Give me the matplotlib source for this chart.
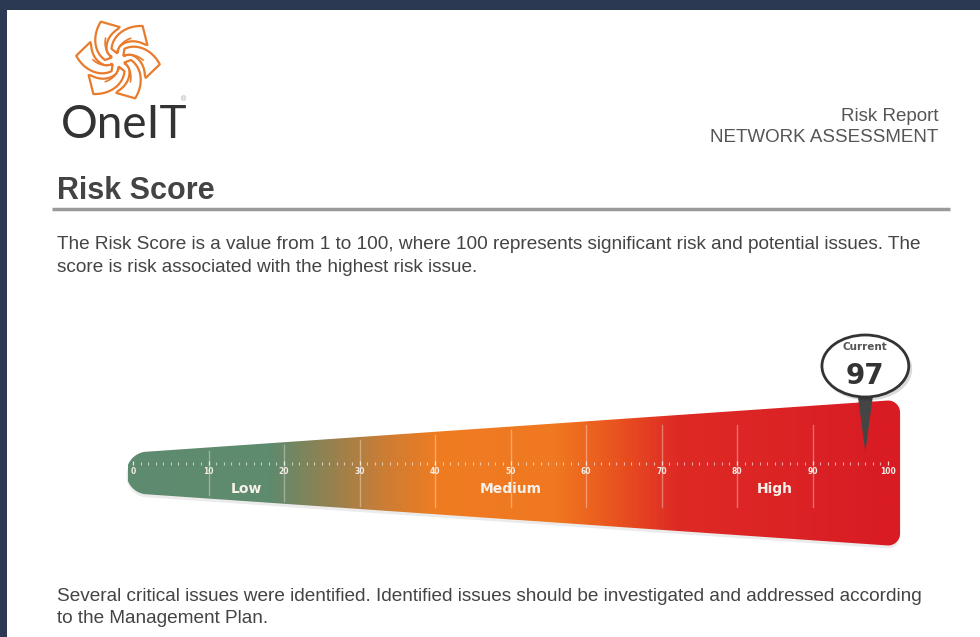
import numpy as np
import matplotlib.pyplot as plt
from matplotlib.colors import LinearSegmentedColormap, Normalize
from matplotlib.patches import Polygon, Ellipse, Rectangle, Circle

plt.rcParams['font.family'] = ['Liberation Sans', 'DejaVu Sans']

# ---- data ----
score = 97
scale_min, scale_max = 0, 100
major_ticks = list(range(0, 101, 10))
minor_ticks = list(range(0, 101, 1))
band_names = ["Low", "Medium", "High"]
band_edges = [0, 30, 70, 100]
grad_pos = [0, 18, 26, 33, 40, 56, 64, 72, 100]
grad_col = ["#5e8b70", "#5f8a6d", "#94814f", "#cb7d35", "#ef7c22",
            "#f07820", "#e9531f", "#de2a25", "#d91c24"]

title = "Risk Score"
report_lines = ["Risk Report", "NETWORK ASSESSMENT"]
intro_lines = ["The Risk Score is a value from 1 to 100, where 100 represents significant risk and potential issues. The",
               "score is risk associated with the highest risk issue."]
footer_lines = ["Several critical issues were identified. Identified issues should be investigated and addressed according",
                "to the Management Plan."]

W, H = 980, 637
fig = plt.figure(figsize=(W / 100, H / 100), dpi=100)
fig.patch.set_facecolor('white')

# page layer in pixels (y down)
page = fig.add_axes([0, 0, 1, 1])
page.set_xlim(0, W)
page.set_ylim(H, 0)
page.axis('off')

# dark frame
page.add_patch(Rectangle((0, 0), W, 10, fc='#2b3a52', ec='none'))
page.add_patch(Rectangle((0, 0), 7, H, fc='#2b3a52', ec='none'))

# logo swirl
lc = (118, 60)
for k in range(6):
    a = np.deg2rad(k * 60)
    s = np.linspace(0, 1, 25)
    ra = 13 + 29 * s
    ta = a + 1.15 * s ** 0.9
    rb = 13 + 18 * s[::-1]
    tb = a + 0.62 + 0.95 * s[::-1]
    r = np.concatenate([[7], ra, [33], rb])
    t = np.concatenate([[a + 0.35], ta, [a + 1.62], tb])
    xs = lc[0] + r * np.cos(t)
    ys = lc[1] + r * np.sin(t)
    page.add_patch(Polygon(np.column_stack([xs, ys]), closed=True, fc='white',
                           ec='#e97b2c', lw=1.6, joinstyle='round'))
    rr = np.linspace(8, 25, 10)
    tt = a + 0.45 + 0.6 * (rr - 8) / 17
    page.plot(lc[0] + rr * np.cos(tt), lc[1] + rr * np.sin(tt), color='#e97b2c', lw=1.2)
    page.add_patch(Circle((lc[0] + 8 * np.cos(a + 0.45), lc[1] + 8 * np.sin(a + 0.45)), 1.6,
                          fc='#e97b2c', ec='none'))

page.text(61, 138, "OneIT", fontsize=33, family=['Lato', 'DejaVu Sans'], fontweight='normal',
          color='#333333', va='baseline', ha='left')
page.text(181, 100, "®", fontsize=5, color='#999999', ha='left', va='center')

# header
page.text(938, 121, report_lines[0], ha='right', va='baseline', fontsize=13.5, color='#555555')
page.text(938, 142, report_lines[1], ha='right', va='baseline', fontsize=13.5, color='#555555')
page.text(57, 199, title, ha='left', va='baseline', fontsize=22, fontweight='bold', color='#444444')
page.plot([52, 950], [209, 209], color='#9a9a9a', lw=2.5, solid_capstyle='butt')

for i, line in enumerate(intro_lines):
    page.text(57, 249 + 23 * i, line, ha='left', va='baseline', fontsize=13.7, color='#444444')
for i, line in enumerate(footer_lines):
    page.text(57, 601 + 22 * i, line, ha='left', va='baseline', fontsize=13.7, color='#444444')

# gauge layer: x in score units, y in pixels
ppu = 7.55
x0 = 133
g = fig.add_axes([0, 0, 1, 1], facecolor='none')
g.axis('off')

left_v = scale_min - 0.7
right_v = scale_max + 1.6
cy = 473
h0, h1 = 20, 72.5


def half(v):
    return h0 + (h1 - h0) * (v - left_v) / (right_v - left_v)


rc = 12
cxv = left_v + h0 / ppu
hc = half(cxv)
pts = [(cxv, cy - hc)]
ccx = right_v - rc / ppu
ctop = cy - half(right_v) + rc
cbot = cy + half(right_v) - rc
pts += [(ccx + rc / ppu * np.cos(t), ctop + rc * np.sin(t)) for t in np.linspace(-np.pi / 2, 0, 12)]
pts += [(ccx + rc / ppu * np.cos(t), cbot + rc * np.sin(t)) for t in np.linspace(0, np.pi / 2, 12)]
pts += [(cxv + hc / ppu * np.cos(t), cy + hc * np.sin(t)) for t in np.linspace(np.pi / 2, 3 * np.pi / 2, 30)]

g.add_patch(Polygon([(x, y + 3) for x, y in pts], closed=True, fc='black', alpha=0.08, ec='none', zorder=1))
wedge = Polygon(pts, closed=True, fc='none', ec='none', zorder=2)
g.add_patch(wedge)

cmap = LinearSegmentedColormap.from_list(
    'risk', [((p - scale_min) / (scale_max - scale_min), c) for p, c in zip(grad_pos, grad_col)])
grad = np.linspace(left_v, right_v, 1000)[None, :]
im = g.imshow(grad, cmap=cmap, norm=Normalize(scale_min, scale_max),
              extent=(left_v, right_v, cy + h1 + 2, cy - h1 - 2),
              aspect='auto', interpolation='bilinear', zorder=2)
im.set_clip_path(wedge)

# faint division lines
for v in major_ticks[1:-1]:
    top = max(cy - half(v) + 3, 425)
    bot = min(cy + half(v) - 3, 507)
    g.plot([v, v], [top, bot], color='white', alpha=0.35, lw=1, zorder=3)

# dotted scale
minor = [v for v in minor_ticks if v not in major_ticks]
g.vlines(minor, 461.5, 464.5, colors='white', lw=0.8, alpha=0.6, zorder=3)
g.vlines(major_ticks, 460.5, 465, colors='white', lw=0.9, alpha=0.8, zorder=3)
for v in major_ticks:
    g.text(v, 472, str(v), ha='center', va='center', fontsize=5.5, fontweight='bold',
           color='#f3ede6', family='DejaVu Sans', zorder=4)

for name, lo, hi in zip(band_names, band_edges[:-1], band_edges[1:]):
    g.text((lo + hi) / 2, 489, name, ha='center', va='center', fontsize=10, fontweight='bold',
           color='#f6f1ea', family='DejaVu Sans', zorder=4)

# current marker
pin_y = 366
g.add_patch(Polygon([(score - 1.0, 396), (score + 1.0, 396), (score, 452)], closed=True,
                    fc='#454545', ec='none', zorder=5))
g.add_patch(Ellipse((score + 0.3, pin_y + 3), 11.8, 63, fc='black', alpha=0.15, ec='none', zorder=5))
g.add_patch(Ellipse((score, pin_y), 11.5, 62, fc='white', ec='#333333', lw=2, zorder=6))
g.text(score, 347, "Current", ha='center', va='center', fontsize=7.5, fontweight='bold',
       color='#555555', family='DejaVu Sans', zorder=7)
g.text(score, 376, str(score), ha='center', va='center', fontsize=20, fontweight='bold',
       color='#333333', family='DejaVu Sans', zorder=7)

g.set_xlim(scale_min - x0 / ppu, scale_min + (W - x0) / ppu)
g.set_ylim(H, 0)

fig.savefig("out.png", dpi=100, facecolor='white')
